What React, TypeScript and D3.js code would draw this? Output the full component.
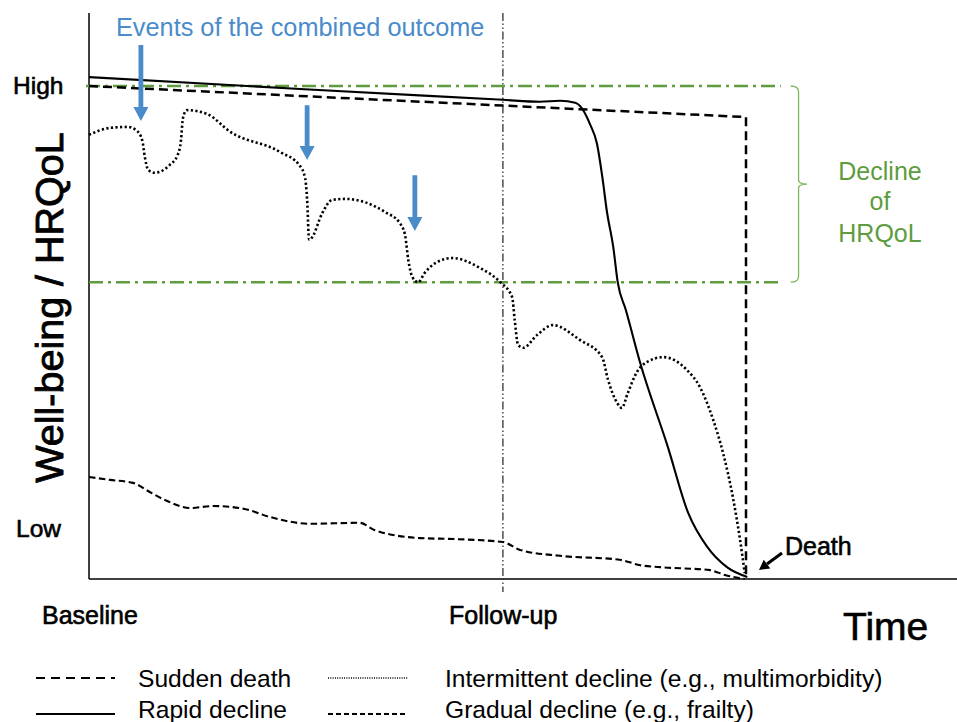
import React from "react";
import * as d3 from "d3";

// ---- Data (time: 0 = baseline, 100 = death; well-being: 0 = axis floor, 100 = "High") ----
const suddenDeath: [number, number][] = [
  [0, 100], [100, 93.7], [100, 0],
];

const rapidDecline: [number, number][] = [
  [0, 101.8], [32.1, 99.4], [63.0, 97.2], [68.6, 96.8], [71.7, 97.0], [74.0, 96.6],
  [75.0, 95.5], [76.3, 92.1], [77.3, 88.4], [78.2, 80.9], [78.8, 74.8], [79.8, 67.3],
  [80.5, 60.0], [81.7, 54.6], [83.9, 43.8], [88.1, 26.8], [91.2, 13.4], [94.1, 6.5],
  [97.1, 2.4], [100.2, 0.4],
];

const intermittentDecline: [number, number][] = [
  [0, 90.1], [3.2, 91.5], [5.9, 91.7], [7.3, 90.9], [8.1, 89.0], [8.5, 85.6], [9.0, 83.0],
  [10.0, 82.4], [12.3, 84.0], [13.5, 86.0], [14.0, 89.0], [14.3, 93.5], [14.9, 95.1],
  [18.0, 94.3], [21.5, 90.7], [29.1, 86.6], [32.1, 83.8], [32.9, 81.3], [33.2, 76.9],
  [33.5, 68.8], [33.9, 69.2], [35.5, 74.2], [37.0, 76.9], [39.0, 77.1], [45.1, 74.4],
  [47.3, 72.2], [48.1, 69.8], [48.6, 64.7], [49.2, 61.3], [50.1, 60.2], [51.1, 62.1],
  [53.0, 64.3], [55.3, 65.1], [59.5, 63.1], [62.6, 60.2], [64.4, 57.2], [64.8, 52.5],
  [65.3, 47.5], [66.1, 46.9], [68.2, 49.5], [70.6, 51.5], [74.7, 48.5], [78.1, 45.0],
  [79.0, 40.4], [80.4, 35.7], [81.1, 34.7], [82.0, 37.7], [83.4, 42.0], [84.9, 44.0],
  [87.4, 45.0], [91.0, 42.4], [93.0, 38.9], [95.0, 32.3], [96.5, 25.6], [98.0, 16.6],
  [99.1, 7.9], [99.8, 1.2],
];

const gradualDecline: [number, number][] = [
  [0, 20.7], [3.2, 20.1], [6.7, 19.5], [9.3, 17.6], [11.6, 16.0], [15.4, 14.4],
  [18.9, 14.8], [23.7, 14.2], [27.5, 12.6], [33.6, 11.2], [41.2, 11.4], [43.5, 9.9],
  [50.4, 8.3], [55.7, 8.1], [63.0, 7.5], [65.6, 5.9], [71.7, 4.7], [80.8, 3.9],
  [83.9, 2.8], [86.9, 2.4], [94.5, 1.8], [96.8, 0.8], [99.8, 0],
];

// event arrows: [time, from value, to value]
const eventArrows: [number, number, number][] = [
  [7.9, 108.3, 92.9],
  [33.2, 96.1, 85.0],
  [49.6, 81.9, 70.6],
];

const followUpTime = 63.0;
const hrqolHigh = 100;
const hrqolLowBand = 60.2;

const legendItems = [
  { label: "Sudden death", key: "sudden" },
  { label: "Rapid decline", key: "rapid" },
  { label: "Intermittent decline (e.g., multimorbidity)", key: "inter" },
  { label: "Gradual decline (e.g., frailty)", key: "gradual" },
];

const FONT = "'Liberation Sans', Arial, Helvetica, sans-serif";
const GREEN = "#5e9c3e";
const BLUE = "#4a8cca";

const styles: Record<string, { dash?: string; width: number }> = {
  sudden: { dash: "9,5", width: 2.5 },
  rapid: { width: 2.1 },
  inter: { dash: "2.2,2.4", width: 2.6 },
  gradual: { dash: "6.5,3.5", width: 2.1 },
};

export default function App() {
  const W = 957, H = 722;
  const x = d3.scaleLinear().domain([0, 100]).range([89, 746]);
  const y = d3.scaleLinear().domain([0, 100]).range([579, 86]);

  const smooth = d3.line<[number, number]>().x(d => x(d[0])).y(d => y(d[1])).curve(d3.curveMonotoneX);
  const straight = d3.line<[number, number]>().x(d => x(d[0])).y(d => y(d[1]));

  const greenEnd = 105.3;
  const bx0 = x(106.8), bx1 = x(108.0), btip = x(109.3);
  const bt = y(hrqolHigh), bb = y(hrqolLowBand), bm = (bt + bb) / 2;
  const bracket = `M${bx0},${bt} Q${bx1},${bt} ${bx1},${bt + 6} L${bx1},${bm - 4} Q${bx1},${bm} ${btip},${bm} Q${bx1},${bm} ${bx1},${bm + 4} L${bx1},${bb - 6} Q${bx1},${bb} ${bx0},${bb}`;

  const arrowPath = (t: number, v0: number, v1: number) => {
    const cx = x(t), y0 = y(v0), y1 = y(v1);
    const hl = 14, hw = 7.5, sw = 2.4;
    return `M${cx - sw},${y0} L${cx + sw},${y0} L${cx + sw},${y1 - hl} L${cx + hw},${y1 - hl} L${cx},${y1} L${cx - hw},${y1 - hl} L${cx - sw},${y1 - hl} Z`;
  };

  // death arrow
  const dtx = x(100) + 13, dty = y(0) - 9;
  const dsx = dtx + 23, dsy = dty - 17;
  const ang = Math.atan2(dty - dsy, dtx - dsx);
  const hL = 10, hW = 5.5;
  const bxh = dtx - hL * Math.cos(ang), byh = dty - hL * Math.sin(ang);
  const deathHead = `M${dtx},${dty} L${bxh + hW * Math.sin(ang)},${byh - hW * Math.cos(ang)} L${bxh - hW * Math.sin(ang)},${byh + hW * Math.cos(ang)} Z`;

  const medium = { stroke: "#000", strokeWidth: 0.6 };

  return (
    <svg width={W} height={H} style={{ position: "absolute", left: 0, top: 0, background: "#fff" }} fontFamily={FONT}>
      <rect width={W} height={H} fill="#fff" />
      {/* axes */}
      <line x1={x(0)} x2={x(0)} y1={13} y2={y(0)} stroke="#000" strokeWidth={1.5} />
      <line x1={x(0)} x2={x(132.2)} y1={y(0)} y2={y(0)} stroke="#000" strokeWidth={1.5} />

      {/* follow-up line */}
      <line x1={x(followUpTime)} x2={x(followUpTime)} y1={13} y2={592} stroke="#333" strokeWidth={1.3} strokeDasharray="8,2.5,1.5,2.5,1.5,2.5" />

      {/* green band lines */}
      <line x1={x(0) - 3} x2={x(greenEnd)} y1={y(hrqolHigh)} y2={y(hrqolHigh)} stroke={GREEN} strokeWidth={2.4} strokeDasharray="14,5,3,5" />
      <line x1={x(0)} x2={x(greenEnd)} y1={y(hrqolLowBand)} y2={y(hrqolLowBand)} stroke={GREEN} strokeWidth={2.4} strokeDasharray="14,5,3,5" />
      <path d={bracket} fill="none" stroke="#7fb660" strokeWidth={1.3} />
      <g fill={GREEN} fontSize={25} textAnchor="middle">
        <text x={880} y={180}>Decline</text>
        <text x={880} y={210}>of</text>
        <text x={880} y={242}>HRQoL</text>
      </g>

      {/* series */}
      <path d={smooth(gradualDecline) || ""} fill="none" stroke="#000" strokeWidth={styles.gradual.width} strokeDasharray={styles.gradual.dash} />
      <path d={smooth(intermittentDecline) || ""} fill="none" stroke="#000" strokeWidth={styles.inter.width} strokeDasharray={styles.inter.dash} />
      <path d={straight(suddenDeath) || ""} fill="none" stroke="#000" strokeWidth={styles.sudden.width} strokeDasharray={styles.sudden.dash} />
      <path d={smooth(rapidDecline) || ""} fill="none" stroke="#000" strokeWidth={styles.rapid.width} />

      {/* event arrows */}
      {eventArrows.map((a, i) => (
        <path key={i} d={arrowPath(a[0], a[1], a[2])} fill={BLUE} />
      ))}
      <text x={116} y={36} fontSize={25.3} fill={BLUE}>Events of the combined outcome</text>

      {/* death annotation */}
      <line x1={dsx} y1={dsy} x2={bxh} y2={byh} stroke="#000" strokeWidth={3} />
      <path d={deathHead} fill="#000" />
      <text x={785} y={555} fontSize={25} {...medium}>Death</text>

      {/* axis texts */}
      <text x={13} y={94} fontSize={24.5} {...medium}>High</text>
      <text x={16} y={537} fontSize={24.5} {...medium}>Low</text>
      <text x={42} y={624} fontSize={25} {...medium}>Baseline</text>
      <text x={449} y={624} fontSize={25} {...medium}>Follow-up</text>
      <text x={843} y={640} fontSize={39} {...medium}>Time</text>
      <text transform="translate(63,307.5) rotate(-90)" textAnchor="middle" fontSize={39.5} stroke="#000" strokeWidth={0.9}>Well-being / HRQoL</text>

      {/* legend */}
      <g fontSize={24.6} fill="#000">
        <line x1={36} x2={115} y1={678} y2={678} stroke="#000" strokeWidth={2} strokeDasharray="9,6" />
        <text x={138} y={687}>{legendItems[0].label}</text>
        <line x1={36} x2={115} y1={714} y2={714} stroke="#000" strokeWidth={2} />
        <text x={138} y={718}>{legendItems[1].label}</text>
        <line x1={328} x2={408} y1={678} y2={678} stroke="#000" strokeWidth={1.5} strokeDasharray="1,1.3" />
        <text x={445} y={687}>{legendItems[2].label}</text>
        <line x1={328} x2={408} y1={714} y2={714} stroke="#000" strokeWidth={1.8} strokeDasharray="5,3" />
        <text x={445} y={718}>{legendItems[3].label}</text>
      </g>
    </svg>
  );
}
